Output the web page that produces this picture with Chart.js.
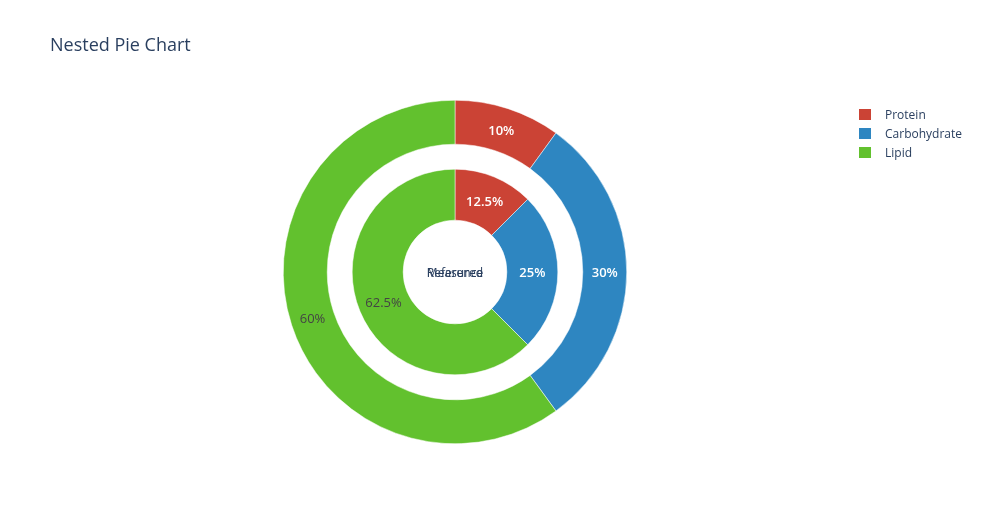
<!DOCTYPE html>
<html>
<head>
<meta charset="utf-8">
<script src="https://cdn.jsdelivr.net/npm/chart.js@4"></script>
<style>
  html, body { margin: 0; padding: 0; background: #fff; }
  #wrap { position: relative; width: 983px; height: 525px; font-family: "Open Sans", "Noto Sans", sans-serif; }
  #c { position: absolute; left: 0; top: 0; }
  #title { position: absolute; left: 50px; top: 32px; font-size: 18px; color: #2a3f5f; white-space: nowrap; }
  #legend { position: absolute; left: 859px; top: 105px; font-size: 12px; color: #2a3f5f; }
  .item { position: relative; height: 19px; line-height: 19px; white-space: nowrap; }
  .sw { position: absolute; left: 0; top: 4px; width: 12px; height: 11px; }
  .lt { position: absolute; left: 26px; top: 0; }
</style>
</head>
<body>
<div id="wrap">
  <canvas id="c" width="983" height="525"></canvas>
  <div id="title"></div>
  <div id="legend"></div>
</div>
<script>
const titleText = 'Nested Pie Chart';
const categories = ['Protein', 'Carbohydrate', 'Lipid'];
const outerValues = [10, 30, 60];
const innerValues = [12.5, 25, 62.5];
const centerLabels = ['Measured', 'Reference'];
const colors = ['#CB4335', '#2E86C1', '#62C12E'];
const textColors = ['#ffffff', '#ffffff', '#444444'];
const textWeights = ['600', '600', 'normal'];

document.getElementById('title').textContent = titleText;
const legend = document.getElementById('legend');
categories.forEach((c, i) => {
  const d = document.createElement('div');
  d.className = 'item';
  d.innerHTML = '<span class="sw" style="background:' + colors[i] + '"></span><span class="lt"></span>';
  d.querySelector('.lt').textContent = c;
  legend.appendChild(d);
});

function pctText(values, i) {
  const tot = values.reduce((a, b) => a + b, 0);
  const p = values[i] / tot * 100;
  return (Math.round(p * 10) / 10) + '%';
}

const labelPlugin = {
  id: 'sliceLabels',
  afterDatasetsDraw(chart) {
    const ctx = chart.ctx;
    ctx.save();
    ctx.textAlign = 'center';
    ctx.textBaseline = 'middle';
    [0, 2].forEach(di => {
      const meta = chart.getDatasetMeta(di);
      const vals = chart.data.datasets[di].data;
      meta.data.forEach((arc, i) => {
        const p = arc.getProps(['x', 'y', 'startAngle', 'endAngle', 'innerRadius', 'outerRadius'], true);
        const a = (p.startAngle + p.endAngle) / 2;
        const r = (p.innerRadius + p.outerRadius) / 2;
        ctx.font = textWeights[i] + ' 13px "Open Sans", "Noto Sans", sans-serif';
        ctx.fillStyle = textColors[i];
        ctx.fillText(pctText(vals, i), p.x + Math.cos(a) * r, p.y + Math.sin(a) * r + 1.5);
      });
    });
    const m = chart.getDatasetMeta(0).data[0];
    ctx.fillStyle = '#2a3f5f';
    ctx.font = '12px "Open Sans", "Noto Sans", sans-serif';
    centerLabels.forEach(t => ctx.fillText(t, m.x, m.y + 1.5));
    ctx.restore();
  }
};

new Chart(document.getElementById('c'), {
  type: 'doughnut',
  data: {
    labels: categories,
    datasets: [
      { data: outerValues, backgroundColor: colors, borderColor: '#ffffff', borderWidth: 0.5, weight: 44 },
      { data: [1], backgroundColor: ['rgba(0,0,0,0)'], borderWidth: 0, weight: 25 },
      { data: innerValues, backgroundColor: colors, borderColor: '#ffffff', borderWidth: 0.5, weight: 51 }
    ]
  },
  options: {
    responsive: false,
    animation: false,
    cutout: '30.2%',
    layout: { padding: { left: 283, right: 356, top: 100, bottom: 81 } },
    plugins: { legend: { display: false }, tooltip: { enabled: false }, title: { display: false } }
  },
  plugins: [labelPlugin]
});
</script>
</body>
</html>
